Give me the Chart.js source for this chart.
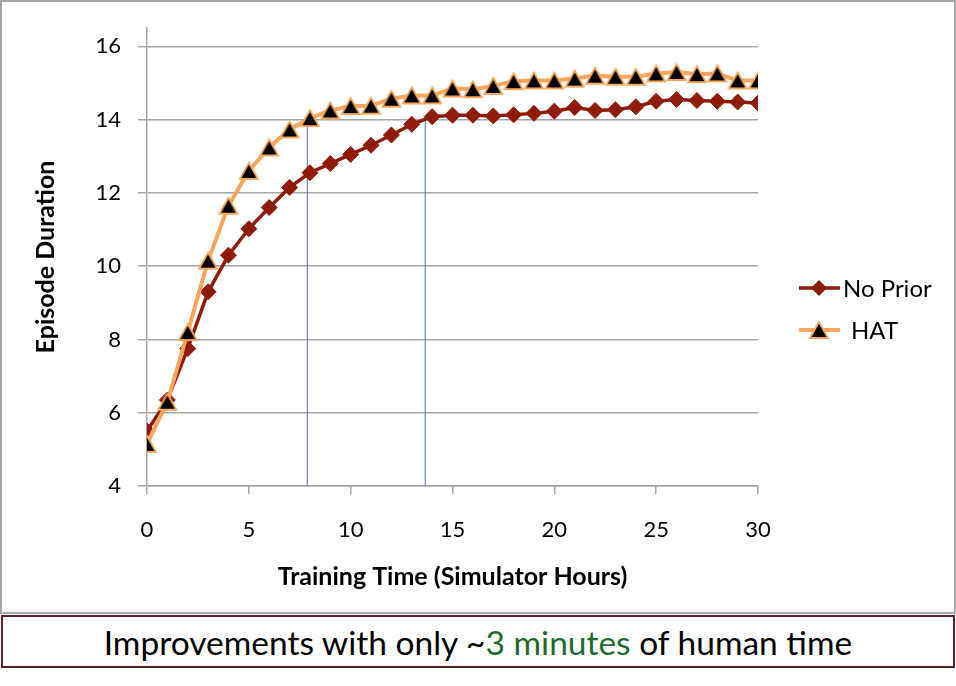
<!DOCTYPE html>
<html lang="en">
<head>
  <meta charset="UTF-8">
  <title>Episode Duration vs Training Time</title>
  <script src="https://cdn.jsdelivr.net/npm/chart.js"></script>
  <style>
    * { margin: 0; padding: 0; }
    body {
      width: 956px;
      height: 686px;
      background: #fff;
      position: relative;
      font-family: 'Lato', sans-serif;
    }
    .frame {
      position: absolute;
      left: 0;
      top: 0;
      width: 956px;
      height: 614px;
      border: 2px solid #a6a6a6;
      box-sizing: border-box;
    }
    .caption {
      position: absolute;
      left: 1px;
      top: 615px;
      width: 954px;
      height: 53px;
      border: 2px solid #5e1f26;
      box-sizing: border-box;
      text-align: center;
      font-size: 33.5px;
      line-height: 50px;
      color: #000;
    }
    .caption .green { color: #1e6b30; }
  </style>
</head>
<body>
  <div class="frame">
    <canvas id="durationChart" width="952" height="610"></canvas>
  </div>
  <div class="caption">Improvements with only ~<span class="green">3 minutes</span> of human time</div>
  <script>
    // values, one per simulator hour
    const hours = [0, 1, 2, 3, 4, 5, 6, 7, 8, 9, 10, 11, 12, 13, 14, 15, 16, 17, 18, 19, 20, 21, 22, 23, 24, 25, 26, 27, 28, 29, 30];
    const noPrior = [5.5, 6.35, 7.75, 9.3, 10.3, 11.02, 11.6, 12.15, 12.55, 12.8, 13.05, 13.3, 13.58, 13.87, 14.08, 14.12, 14.12, 14.1, 14.13, 14.17, 14.23, 14.33, 14.25, 14.27, 14.35, 14.5, 14.55, 14.52, 14.5, 14.48, 14.45];
    const hat = [5.15, 6.3, 8.2, 10.15, 11.65, 12.6, 13.24, 13.73, 14.04, 14.25, 14.37, 14.38, 14.57, 14.66, 14.66, 14.85, 14.83, 14.92, 15.05, 15.07, 15.07, 15.12, 15.2, 15.17, 15.17, 15.26, 15.3, 15.24, 15.26, 15.07, 15.07];
    const markHours = [7.87, 13.66];   // thin guide lines
    const markTop = 14;
    const xTicks = [0, 5, 10, 15, 20, 25, 30];
    const yTicks = [4, 6, 8, 10, 12, 14, 16];

    const RED = '#8f1b0b';
    const ORANGE = '#f7a65e';
    const GUIDE = '#4a6fb0';

    // black triangle with orange rim, centred on its mid-height like the original
    function makeTriangle(w, h) {
      const c = document.createElement('canvas');
      c.width = w + 4;
      c.height = h + 4;
      const g = c.getContext('2d');
      g.beginPath();
      g.moveTo(c.width / 2, 2);
      g.lineTo(c.width - 2, h + 2);
      g.lineTo(2, h + 2);
      g.closePath();
      g.fillStyle = '#000';
      g.fill();
      g.lineWidth = 1.8;
      g.strokeStyle = ORANGE;
      g.stroke();
      return c;
    }
    const triangle = makeTriangle(18, 16);

    function pairs(xs, ys) {
      return xs.map((x, i) => ({ x: x, y: ys[i] }));
    }

    const datasets = [
      {
        label: 'HAT',
        data: pairs(hours, hat),
        borderColor: ORANGE,
        borderWidth: 4,
        pointStyle: triangle,
        order: 1
      },
      {
        label: 'No Prior',
        data: pairs(hours, noPrior),
        borderColor: RED,
        backgroundColor: RED,
        borderWidth: 3.5,
        pointStyle: 'rectRot',
        pointRadius: 8,
        pointBorderWidth: 1,
        order: 2
      }
    ];
    markHours.forEach(h => {
      datasets.push({
        label: '',
        data: [{ x: h, y: yTicks[0] }, { x: h, y: markTop }],
        borderColor: GUIDE,
        borderWidth: 1,
        pointRadius: 0,
        order: 3
      });
    });

    // Excel-style legend: line sample with marker in the middle
    const sideLegend = {
      id: 'sideLegend',
      afterDraw(chart) {
        const ctx = chart.ctx;
        const items = [
          { text: 'No Prior', y: 286, color: RED, width: 3.5, marker: 'diamond', tx: 841 },
          { text: 'HAT', y: 328, color: ORANGE, width: 4, marker: 'triangle', tx: 849 }
        ];
        ctx.save();
        items.forEach(it => {
          ctx.beginPath();
          ctx.moveTo(797, it.y);
          ctx.lineTo(838, it.y);
          ctx.strokeStyle = it.color;
          ctx.lineWidth = it.width;
          ctx.stroke();
          if (it.marker === 'diamond') {
            ctx.beginPath();
            ctx.moveTo(817, it.y - 8);
            ctx.lineTo(825, it.y);
            ctx.lineTo(817, it.y + 8);
            ctx.lineTo(809, it.y);
            ctx.closePath();
            ctx.fillStyle = RED;
            ctx.fill();
          } else {
            ctx.drawImage(triangle, 817 - triangle.width / 2, it.y - triangle.height / 2);
          }
          ctx.fillStyle = '#000';
          ctx.font = '24px Lato';
          ctx.textAlign = 'left';
          ctx.textBaseline = 'middle';
          ctx.fillText(it.text, it.tx, it.y + 1);
        });
        ctx.restore();
      }
    };

    // keep the tick labels from pushing the plot area around
    function noEdgePadding(scale) {
      scale.paddingTop = 0;
      scale.paddingBottom = 0;
      scale.paddingLeft = 0;
      scale.paddingRight = 0;
    }

    new Chart(document.getElementById('durationChart'), {
      type: 'line',
      data: { datasets: datasets },
      options: {
        responsive: false,
        animation: false,
        events: [],
        layout: { padding: { top: 26, right: 196, left: 0, bottom: 0 } },
        plugins: {
          legend: { display: false },
          tooltip: { enabled: false }
        },
        scales: {
          x: {
            type: 'linear',
            min: 0,
            max: 30,
            afterBuildTicks: scale => { scale.ticks = xTicks.map(v => ({ value: v })); },
            afterFit: scale => { scale.height = 126; noEdgePadding(scale); },
            ticks: {
              color: '#000',
              font: { family: 'Lato', size: 22 },
              padding: 23
            },
            grid: { drawOnChartArea: false, drawTicks: true, tickLength: 8, color: '#a6a6a6', lineWidth: 1.5 },
            border: { display: true, color: '#a6a6a6', width: 1.5 },
            title: {
              display: true,
              text: 'Training Time (Simulator Hours)',
              color: '#000',
              font: { family: 'Lato', size: 25, weight: 'bold' },
              padding: { top: 0, bottom: 20 }
            }
          },
          y: {
            min: 4,
            max: 16.5,
            afterBuildTicks: scale => { scale.ticks = yTicks.map(v => ({ value: v })); },
            afterFit: scale => { scale.width = 145; noEdgePadding(scale); },
            ticks: {
              color: '#000',
              font: { family: 'Lato', size: 22 },
              padding: 17
            },
            grid: { drawTicks: true, tickLength: 9, color: '#a6a6a6', lineWidth: 1.5 },
            border: { display: true, color: '#a6a6a6', width: 1.5 },
            title: {
              display: true,
              text: 'Episode Duration',
              color: '#000',
              font: { family: 'Lato', size: 25, weight: 'bold' },
              padding: { top: 29, bottom: 0 }
            }
          }
        }
      },
      plugins: [sideLegend]
    });
  </script>
</body>
</html>
